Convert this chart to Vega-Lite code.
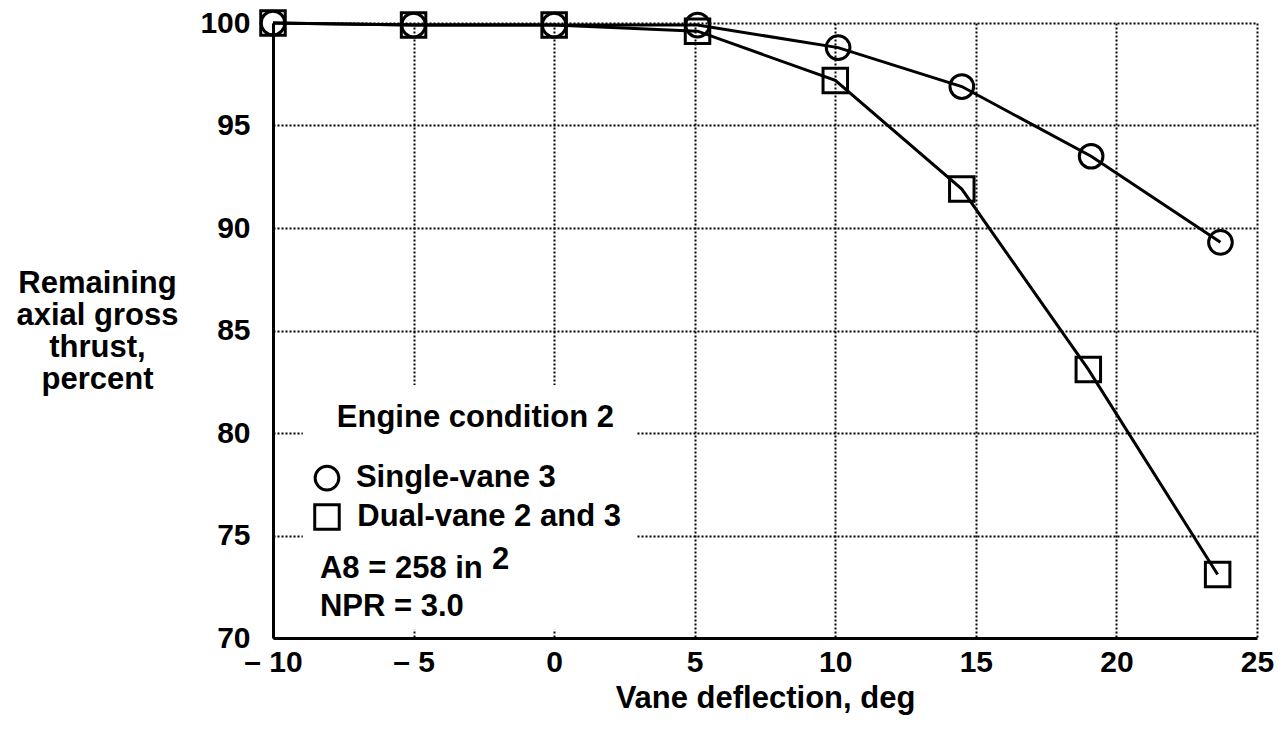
{
  "$schema": "https://vega.github.io/schema/vega-lite/v6.json",
  "width": 984,
  "height": 615,
  "autosize": "none",
  "padding": {"left": 273, "top": 23, "right": 30, "bottom": 96},
  "background": "white",
  "config": {"view": {"stroke": null}, "font": "Liberation Sans"},
  "datasets": {
    "series": [
      {"x": -10, "y": 100, "config": "Single-vane 3"},
      {"x": -5, "y": 99.9, "config": "Single-vane 3"},
      {"x": 0, "y": 99.9, "config": "Single-vane 3"},
      {"x": 5.1, "y": 99.9, "config": "Single-vane 3"},
      {"x": 10.1, "y": 98.8, "config": "Single-vane 3"},
      {"x": 14.5, "y": 96.9, "config": "Single-vane 3"},
      {"x": 19.1, "y": 93.5, "config": "Single-vane 3"},
      {"x": 23.7, "y": 89.3, "config": "Single-vane 3"},
      {"x": -10, "y": 100, "config": "Dual-vane 2 and 3"},
      {"x": -5, "y": 99.9, "config": "Dual-vane 2 and 3"},
      {"x": 0, "y": 99.9, "config": "Dual-vane 2 and 3"},
      {"x": 5.1, "y": 99.6, "config": "Dual-vane 2 and 3"},
      {"x": 10.0, "y": 97.2, "config": "Dual-vane 2 and 3"},
      {"x": 14.5, "y": 91.9, "config": "Dual-vane 2 and 3"},
      {"x": 19.0, "y": 83.1, "config": "Dual-vane 2 and 3"},
      {"x": 23.6, "y": 73.1, "config": "Dual-vane 2 and 3"}
    ],
    "box": [{"x": -8.94, "x2": 2.94, "y": 82.34, "y2": 70.4}],
    "keys": [
      {"x": -8.08, "y": 77.8, "config": "Single-vane 3"},
      {"x": -8.08, "y": 75.9, "config": "Dual-vane 2 and 3"}
    ],
    "labels": [
      {"x": -7.05, "y": 77.8, "text": "Single-vane 3"},
      {"x": -7.0, "y": 75.9, "text": "Dual-vane 2 and 3"},
      {"x": -8.33, "y": 73.37, "text": "A8 = 258 in"},
      {"x": -2.21, "y": 73.8, "text": "2"},
      {"x": -8.33, "y": 71.51, "text": "NPR = 3.0"}
    ],
    "heading": [{"x": -2.8, "y": 80.73, "text": "Engine condition 2"}]
  },
  "layer": [
    {
      "data": {"name": "box"},
      "mark": {"type": "rect", "fill": "white", "stroke": null},
      "encoding": {
        "x": {
          "field": "x", "type": "quantitative",
          "scale": {"domain": [-10, 25], "nice": false, "zero": false},
          "title": "Vane deflection, deg",
          "axis": {
            "values": [-10, -5, 0, 5, 10, 15, 20, 25],
            "labelExpr": "datum.value < 0 ? '\u2013 ' + abs(datum.value) : datum.label",
            "labelFontSize": 30, "labelFontWeight": "bold", "labelColor": "black",
            "labelPadding": 9, "labelFlush": false,
            "ticks": false,
            "domainColor": "black", "domainWidth": 3,
            "grid": true, "gridColor": "black", "gridDash": [2, 2], "gridWidth": 2, "gridOpacity": 1,
            "titleFontSize": 31, "titleFontWeight": "bold", "titleColor": "black",
            "titleBaseline": "alphabetic", "titleY": 69
          }
        },
        "x2": {"field": "x2"},
        "y": {
          "field": "y", "type": "quantitative",
          "scale": {"domain": [70, 100], "nice": false, "zero": false},
          "title": ["Remaining", "axial gross", "thrust,", "percent"],
          "axis": {
            "values": [70, 75, 80, 85, 90, 95, 100],
            "labelFontSize": 30, "labelFontWeight": "bold", "labelColor": "black",
            "labelPadding": 23, "labelFlush": false, "labelBaseline": "middle",
            "ticks": false,
            "domainColor": "black", "domainWidth": 3,
            "grid": true, "gridColor": "black", "gridDash": [2, 2], "gridWidth": 2, "gridOpacity": 1,
            "titleFontSize": 31, "titleFontWeight": "bold", "titleColor": "black",
            "titleAngle": 0, "titleAlign": "center", "titleBaseline": "alphabetic",
            "titleX": -176, "titleY": 269, "titleLineHeight": 32
          }
        },
        "y2": {"field": "y2"}
      }
    },
    {
      "data": {"name": "series"},
      "mark": {"type": "line", "color": "black", "strokeWidth": 3},
      "encoding": {
        "x": {"field": "x", "type": "quantitative"},
        "y": {"field": "y", "type": "quantitative"},
        "detail": {"field": "config"}
      }
    },
    {
      "data": {"name": "series"},
      "mark": {"type": "point", "filled": false, "color": "black", "strokeWidth": 3, "opacity": 1},
      "encoding": {
        "x": {"field": "x", "type": "quantitative"},
        "y": {"field": "y", "type": "quantitative"},
        "shape": {"field": "config", "type": "nominal", "scale": {"domain": ["Single-vane 3", "Dual-vane 2 and 3"], "range": ["circle", "square"]}, "legend": null},
        "size": {"field": "config", "type": "nominal", "scale": {"domain": ["Single-vane 3", "Dual-vane 2 and 3"], "range": [560, 600]}, "legend": null}
      }
    },
    {
      "data": {"name": "keys"},
      "mark": {"type": "point", "filled": false, "color": "black", "strokeWidth": 3, "opacity": 1},
      "encoding": {
        "x": {"field": "x", "type": "quantitative"},
        "y": {"field": "y", "type": "quantitative"},
        "shape": {"field": "config", "type": "nominal"},
        "size": {"field": "config", "type": "nominal"}
      }
    },
    {
      "data": {"name": "labels"},
      "mark": {"type": "text", "align": "left", "baseline": "middle", "fontSize": 31, "fontWeight": "bold", "color": "black"},
      "encoding": {
        "x": {"field": "x", "type": "quantitative"},
        "y": {"field": "y", "type": "quantitative"},
        "text": {"field": "text"}
      }
    },
    {
      "data": {"name": "heading"},
      "mark": {"type": "text", "align": "center", "baseline": "middle", "fontSize": 31, "fontWeight": "bold", "color": "black"},
      "encoding": {
        "x": {"field": "x", "type": "quantitative"},
        "y": {"field": "y", "type": "quantitative"},
        "text": {"field": "text"}
      }
    }
  ]
}
